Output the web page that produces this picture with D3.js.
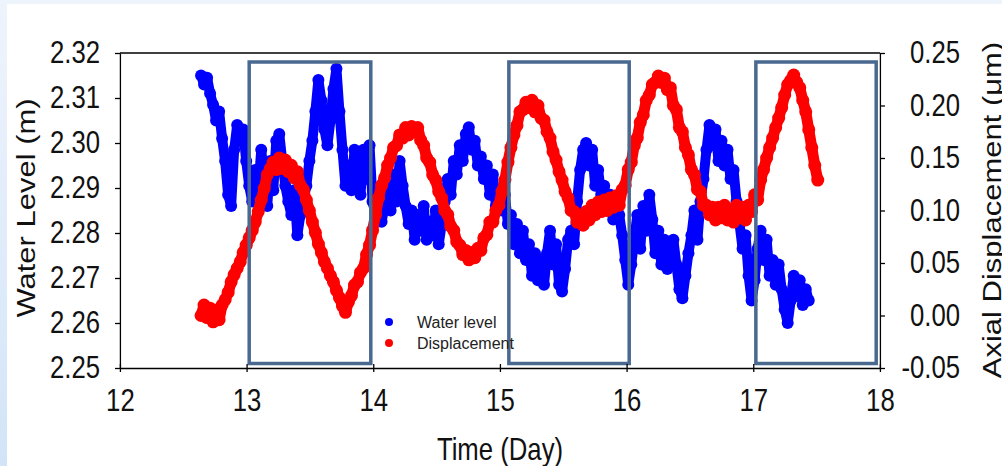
<!DOCTYPE html>
<html>
<head>
<meta charset="utf-8">
<script src="https://cdn.jsdelivr.net/npm/d3@7"></script>
<style>
  body { margin: 0; }
  svg { display: block; font-family: "Liberation Sans", Arial, sans-serif; }
</style>
</head>
<body>
<div id="chart"></div>
<script>
var width = 1002,
    height = 466,
    sx = 0.83; // the original picture is squeezed horizontally

var xTicks = [12, 13, 14, 15, 16, 17, 18];
var levelTicks = [2.25, 2.26, 2.27, 2.28, 2.29, 2.30, 2.31, 2.32];
var dispTicks = [-0.05, 0.00, 0.05, 0.10, 0.15, 0.20, 0.25];

// logger samples: first sample time and interval (days)
var t0 = 12.64, dt = 0.02375;

// water level (m)
var waterLevel = [
  2.315, 2.313, 2.3145, 2.311, 2.3085, 2.305, 2.307, 2.301, 2.296, 2.2885,
  2.286, 2.2985, 2.304, 2.3005, 2.303, 2.296, 2.2905, 2.287, 2.294, 2.2895,
  2.2985, 2.292, 2.286, 2.296, 2.2895, 2.3005, 2.302, 2.296, 2.2905, 2.287,
  2.284, 2.2895, 2.2795, 2.284, 2.287, 2.2905, 2.296, 2.3005, 2.307, 2.314,
  2.3095, 2.303, 2.2995, 2.305, 2.312, 2.3165, 2.307, 2.2985, 2.2905, 2.295,
  2.2895, 2.2985, 2.293, 2.2885, 2.2985, 2.292, 2.2995, 2.287, 2.284, 2.2885,
  2.2825, 2.286, 2.2905, 2.285, 2.293, 2.287, 2.296, 2.2905, 2.286, 2.282,
  2.285, 2.2785, 2.284, 2.2805, 2.286, 2.2785, 2.2825, 2.2795, 2.285, 2.2775,
  2.282, 2.287, 2.292, 2.2885, 2.296, 2.293, 2.2995, 2.296, 2.302, 2.3035,
  2.2985, 2.3005, 2.295, 2.297, 2.292, 2.295, 2.2885, 2.293, 2.286, 2.2895,
  2.285, 2.2885, 2.282, 2.284, 2.2775, 2.282, 2.2755, 2.2805, 2.274, 2.2775,
  2.2705, 2.2755, 2.2695, 2.274, 2.2685, 2.2755, 2.2805, 2.273, 2.2775, 2.2685,
  2.267, 2.272, 2.2785, 2.2805, 2.2775, 2.287, 2.294, 2.2985, 2.300, 2.295,
  2.2985, 2.2905, 2.294, 2.2885, 2.2905, 2.285, 2.2885, 2.283, 2.287, 2.284,
  2.2795, 2.274, 2.2685, 2.273, 2.2785, 2.284, 2.2765, 2.286, 2.2805, 2.2885,
  2.283, 2.2755, 2.2805, 2.273, 2.2785, 2.272, 2.2765, 2.2785, 2.273, 2.2675,
  2.2655, 2.2705, 2.2755, 2.2795, 2.285, 2.2785, 2.287, 2.292, 2.2985, 2.304,
  2.2995, 2.303, 2.296, 2.3005, 2.295, 2.2985, 2.292, 2.294, 2.287, 2.282,
  2.2765, 2.2795, 2.2705, 2.265, 2.2695, 2.2765, 2.2805, 2.274, 2.2785, 2.2705,
  2.274, 2.2685, 2.273, 2.2675, 2.263, 2.260, 2.265, 2.2705, 2.266, 2.2695,
  2.264, 2.2675, 2.265
];

// axial displacement (um)
var displacement = [
  0.000, 0.010, -0.002, 0.007, -0.006, 0.005, -0.004, 0.010, 0.015, 0.022,
  0.032, 0.039, 0.045, 0.051, 0.060, 0.067, 0.074, 0.081, 0.089, 0.099,
  0.110, 0.121, 0.134, 0.140, 0.146, 0.139, 0.150, 0.140, 0.148, 0.137,
  0.143, 0.131, 0.137, 0.124, 0.120, 0.110, 0.100, 0.089, 0.079, 0.068,
  0.060, 0.051, 0.045, 0.038, 0.032, 0.024, 0.017, 0.009, 0.003, 0.013,
  0.019, 0.029, 0.032, 0.041, 0.045, 0.058, 0.067, 0.081, 0.096, 0.112,
  0.124, 0.131, 0.143, 0.150, 0.160, 0.162, 0.172, 0.169, 0.179, 0.172,
  0.180, 0.175, 0.179, 0.167, 0.162, 0.150, 0.146, 0.134, 0.129, 0.118,
  0.112, 0.100, 0.096, 0.085, 0.081, 0.070, 0.067, 0.058, 0.062, 0.053,
  0.060, 0.055, 0.064, 0.062, 0.074, 0.077, 0.089, 0.089, 0.100, 0.105,
  0.118, 0.129, 0.146, 0.160, 0.172, 0.181, 0.194, 0.196, 0.203, 0.198,
  0.205, 0.194, 0.200, 0.188, 0.186, 0.175, 0.169, 0.156, 0.148, 0.137,
  0.129, 0.118, 0.112, 0.100, 0.099, 0.089, 0.093, 0.086, 0.099, 0.091,
  0.105, 0.096, 0.108, 0.099, 0.110, 0.100, 0.112, 0.103, 0.114, 0.105,
  0.120, 0.124, 0.139, 0.146, 0.162, 0.169, 0.184, 0.191, 0.205, 0.210,
  0.220, 0.222, 0.228, 0.222, 0.226, 0.215, 0.217, 0.200, 0.196, 0.179,
  0.175, 0.160, 0.153, 0.139, 0.134, 0.120, 0.118, 0.105, 0.105, 0.096,
  0.103, 0.091, 0.103, 0.093, 0.105, 0.091, 0.100, 0.089, 0.105, 0.093,
  0.103, 0.091, 0.105, 0.099, 0.115, 0.110, 0.129, 0.139, 0.150, 0.160,
  0.169, 0.179, 0.188, 0.198, 0.210, 0.220, 0.224, 0.229, 0.222, 0.217,
  0.205, 0.194, 0.177, 0.160, 0.143, 0.129
];

// highlighted day windows
var boxStart = [13.02, 15.07, 17.02];
var boxEnd = [13.98, 16.02, 17.97];
var boxTop = 2.318, boxBottom = 2.251;

var svg = d3.select("#chart").append("svg")
    .attr("width", width)
    .attr("height", height);

var grad = svg.append("defs").append("linearGradient")
    .attr("id", "bg").attr("x1", 0).attr("y1", 0).attr("x2", 0).attr("y2", 1);
grad.append("stop").attr("offset", "0%").attr("stop-color", "#eef4fc");
grad.append("stop").attr("offset", "100%").attr("stop-color", "#d3e4f8");

svg.append("rect").attr("width", width).attr("height", height).attr("fill", "url(#bg)");
svg.append("rect").attr("x", 7).attr("y", 4)
    .attr("width", width - 7).attr("height", height - 4).attr("fill", "#fff");

var g = svg.append("g").attr("transform", "scale(" + sx + ",1)");

var x = d3.scaleLinear().domain([12, 18]).range([120 / sx, 880 / sx]);
var yL = d3.scaleLinear().domain([2.25, 2.32]).range([368, 53]);
var yR = d3.scaleLinear().domain([-0.05, 0.25]).range([368, 53]);

// dense logger points: a thick trace plus the sample markers
function drawSeries(data, y, color, cls, w) {
  var line = d3.line()
      .x((d, i) => x(t0 + i * dt))
      .y(d => y(d));
  g.append("path")
      .datum(data)
      .attr("d", line)
      .attr("fill", "none")
      .attr("stroke", color)
      .attr("stroke-width", w)
      .attr("stroke-linejoin", "round")
      .attr("stroke-linecap", "round")
      .style("vector-effect", "non-scaling-stroke");
  g.selectAll("." + cls)
      .data(data)
    .enter().append("ellipse")
      .attr("class", cls)
      .attr("cx", (d, i) => x(t0 + i * dt))
      .attr("cy", d => y(d))
      .attr("rx", (w / 2 + 1) / sx)
      .attr("ry", w / 2 + 1)
      .attr("fill", color);
}

drawSeries(waterLevel, yL, "#0000ff", "wl", 10);
drawSeries(displacement, yR, "#ff0000", "disp", 11);

// boxes
g.selectAll(".box")
    .data(boxStart)
  .enter().append("rect")
    .attr("class", "box")
    .attr("x", d => x(d))
    .attr("y", yL(boxTop))
    .attr("width", (d, i) => x(boxEnd[i]) - x(d))
    .attr("height", yL(boxBottom) - yL(boxTop))
    .attr("fill", "none")
    .attr("stroke", "#4a6990")
    .attr("stroke-width", 3.5)
    .style("vector-effect", "non-scaling-stroke");

// axes
function styleAxis(sel) {
  sel.attr("font-size", 31).attr("font-family", null);
  sel.selectAll("text").attr("fill", "#111");
  sel.selectAll("line, path")
      .attr("stroke", "#000")
      .attr("stroke-width", 1.3)
      .style("vector-effect", "non-scaling-stroke");
}

var fmt = d => d.toFixed(2);

var axL = g.append("g")
    .attr("transform", "translate(" + x(12) + ",0)")
    .call(d3.axisLeft(yL).tickValues(levelTicks).tickFormat(fmt)
      .tickSize(6).tickSizeOuter(0).tickPadding(18));
styleAxis(axL);

var axR = g.append("g")
    .attr("transform", "translate(" + x(18) + ",0)")
    .call(d3.axisRight(yR).tickValues(dispTicks).tickFormat(fmt)
      .tickSize(6).tickSizeOuter(0));
styleAxis(axR);
axR.selectAll("text").attr("x", 80 / sx).attr("text-anchor", "end");

var axB = g.append("g")
    .attr("transform", "translate(0,368)")
    .call(d3.axisBottom(x).tickValues(xTicks).tickFormat(d => d)
      .tickSize(4).tickSizeOuter(0));
styleAxis(axB);
axB.selectAll(".tick line").attr("y1", -4);
axB.selectAll("text").attr("y", 43).attr("dy", null);

g.append("line")
    .attr("x1", x(12)).attr("x2", x(18))
    .attr("y1", 53).attr("y2", 53)
    .attr("stroke", "#000").attr("stroke-width", 1.3)
    .style("vector-effect", "non-scaling-stroke");

// titles
g.append("text")
    .attr("transform", "translate(" + (35 / sx) + ",208) rotate(-90)")
    .attr("text-anchor", "middle")
    .attr("font-size", 31).attr("fill", "#111")
    .text("Water Level (m)");

g.append("text")
    .attr("transform", "translate(" + (1001 / sx) + ",210) rotate(-90)")
    .attr("text-anchor", "middle")
    .attr("font-size", 31).attr("fill", "#111")
    .text("Axial Displacement (\u03bcm)");

g.append("text")
    .attr("x", 500 / sx).attr("y", 460)
    .attr("text-anchor", "middle")
    .attr("font-size", 31).attr("fill", "#111")
    .text("Time (Day)");

// legend
var legend = svg.append("g");
var legendItems = [["Water level", "#0000ff"], ["Displacement", "#ff0000"]];
legendItems.forEach(function(item, i) {
  legend.append("circle")
      .attr("cx", 389).attr("cy", 322 + i * 21).attr("r", 4)
      .attr("fill", item[1]);
  legend.append("text")
      .attr("x", 417).attr("y", 328 + i * 21)
      .attr("font-size", 16).attr("fill", "#222")
      .text(item[0]);
});
</script>
</body>
</html>
